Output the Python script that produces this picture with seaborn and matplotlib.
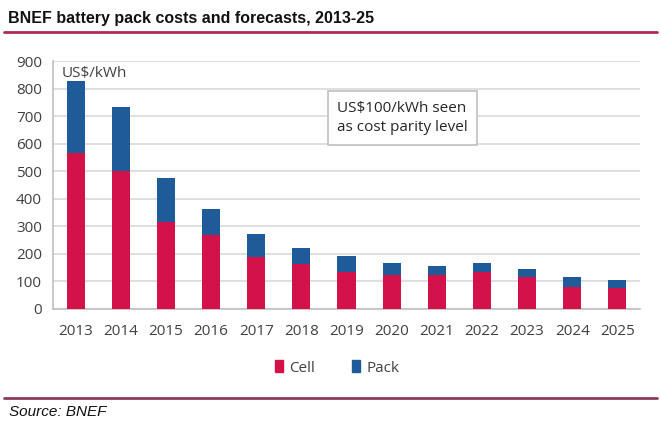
import matplotlib
matplotlib.use("Agg")
import matplotlib.pyplot as plt
import seaborn as sns
import pandas as pd
from matplotlib.lines import Line2D
from matplotlib.patches import Patch

years = ["2013", "2014", "2015", "2016", "2017", "2018", "2019",
         "2020", "2021", "2022", "2023", "2024", "2025"]
cell = [567, 499, 317, 267, 190, 163, 136, 125, 122, 136, 115, 80, 75]
pack = [260, 234, 160, 96, 83, 59, 57, 43, 35, 32, 31, 37, 31]

red = "#D3124A"
blue = "#1F5A99"

df = pd.DataFrame({"year": years, "cell": cell, "pack": pack})
df["total"] = df["cell"] + df["pack"]

sns.set_style("white")
plt.rcParams["font.family"] = ["Open Sans", "DejaVu Sans"]

fig = plt.figure(figsize=(6.61, 4.29), dpi=100)
ax = fig.add_axes([53 / 661, 1 - 309 / 429, 587 / 661, 248 / 429])

# total bar in blue, cell part drawn over it in red
sns.barplot(data=df, x="year", y="total", color=blue, width=0.4,
            saturation=1, linewidth=0, ax=ax, zorder=3)
sns.barplot(data=df, x="year", y="cell", color=red, width=0.4,
            saturation=1, linewidth=0, ax=ax, zorder=4)

ax.set_ylim(0, 900)
ax.set_yticks(range(0, 901, 100))
ax.set_xlabel("")
ax.set_ylabel("")
ax.yaxis.grid(True, color="#D9D9D9", linewidth=1.2, zorder=0)
ax.set_axisbelow(True)
for s in ["top", "right"]:
    ax.spines[s].set_visible(False)
for s in ["left", "bottom"]:
    ax.spines[s].set_color("#BFBFBF")
    ax.spines[s].set_linewidth(1.2)
ax.tick_params(axis="both", length=0, labelsize=11, colors="#404040", pad=8)
ax.tick_params(axis="x", pad=11)

ax.text(0.015, 0.95, "US$/kWh", transform=ax.transAxes, fontsize=11,
        color="#404040", va="center", ha="left")

ax.text(337 / 661, 1 - 118 / 429, "US$100/kWh seen\nas cost parity level",
        transform=fig.transFigure, fontsize=11, color="#262626",
        va="center", ha="left", linespacing=1.45,
        bbox=dict(boxstyle="square,pad=0.6", fc="white", ec="#BFBFBF", lw=1.2))

handles = [Patch(color=red, label="Cell"), Patch(color=blue, label="Pack")]
fig.legend(handles=handles, loc="center", bbox_to_anchor=(337 / 661, 1 - 368 / 429),
           ncol=2, frameon=False, fontsize=11, handlelength=0.55, handleheight=0.85,
           handletextpad=0.4, columnspacing=2.4, labelcolor="#404040")

fig.text(8 / 661, 1 - 18 / 429, "BNEF battery pack costs and forecasts, 2013-25",
         fontsize=11.5, fontweight="bold", family=["Liberation Sans", "DejaVu Sans"],
         color="#111111", va="center", ha="left")
fig.add_artist(Line2D([4 / 661, 657 / 661], [1 - 32 / 429, 1 - 32 / 429],
                      color="#B02A55", linewidth=2, transform=fig.transFigure))
fig.add_artist(Line2D([4 / 661, 657 / 661], [1 - 398 / 429, 1 - 398 / 429],
                      color="#8C3B60", linewidth=2, transform=fig.transFigure))
fig.text(9 / 661, 1 - 412 / 429, "Source: BNEF", fontsize=11, style="italic",
         family=["Liberation Sans", "DejaVu Sans"], color="#111111",
         va="center", ha="left")

fig.savefig("out.png", dpi=100)
